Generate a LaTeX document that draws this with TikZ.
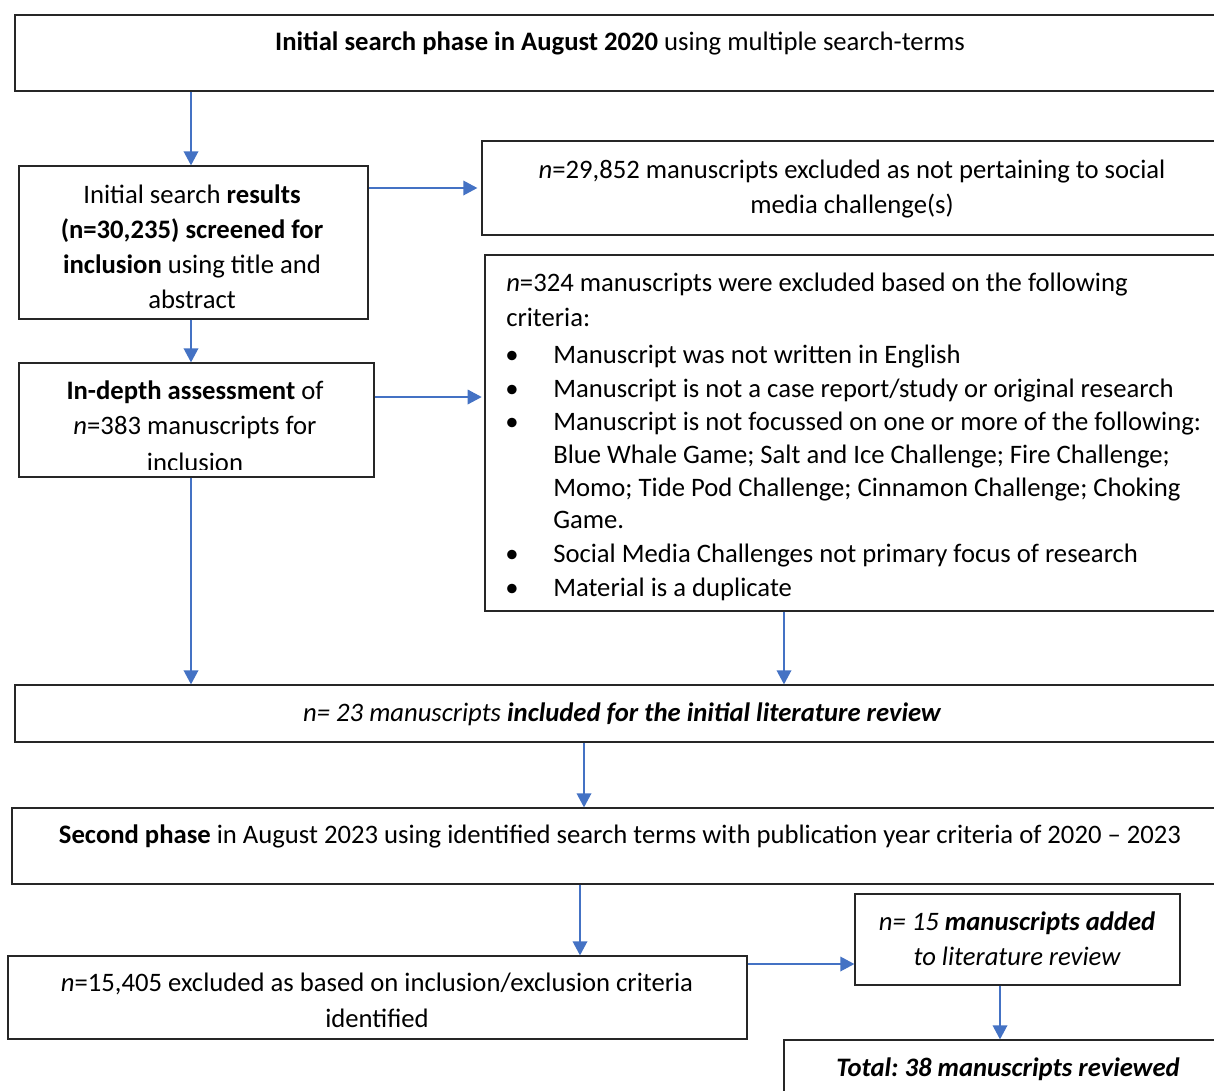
\documentclass[tikz,border=0pt]{standalone}
\usepackage{fontspec}
\setmainfont{Carlito}
\usetikzlibrary{arrows.meta,fit}
\definecolor{flow}{HTML}{4472C4}
\newcommand\fs{\fontsize{20}{24}\selectfont\frenchspacing}
\begin{document}
\begin{tikzpicture}[x=0.75pt,y=-0.75pt,
  box/.style={draw=black!85, line width=1pt, inner sep=0pt, rectangle},
  arr/.style={draw=flow, line width=1pt, -{Triangle[length=10.5pt,width=11pt]}},
  ln/.style={anchor=base, inner sep=0pt, font=\fs},
  lnw/.style={anchor=base west, inner sep=0pt, font=\fs}]
\useasboundingbox (0,0) rectangle (1214,1090);
\clip (0,0) rectangle (1214,1090);
\fill[white] (0,0) rectangle (1214,1090);
% boxes
\node[box, fit={(15,15) (1230,91)}] (b1) {};
\node[box, fit={(19,166) (368,319)}] (b2) {};
\node[box, fit={(482,141) (1230,235)}] (b3) {};
\node[box, fit={(19,363) (374,477)}] (b4) {};
\node[box, fit={(485,255) (1230,611)}] (b5) {};
\node[box, fit={(15,685) (1230,742)}] (b6) {};
\node[box, fit={(12,808) (1230,884)}] (b7) {};
\node[box, fit={(8,956) (747,1039)}] (b8) {};
\node[box, fit={(855,894) (1180,985)}] (b9) {};
\node[box, fit={(784,1040) (1230,1100)}] (b10) {};
% texts
\node[ln] (t1) at (620,50) {\textbf{Initial search phase in August 2020} using multiple search-terms};
\node[ln] (t3a) at (852,178) {\textit{n}=29,852 manuscripts excluded as not pertaining to social};
\node[ln] (t3b) at (852,213) {media challenge(s)};
\node[ln] (t2a) at (192,203) {Initial search \textbf{results}};
\node[ln] (t2b) at (192,238) {\textbf{(n=30,235) screened for}};
\node[ln] (t2c) at (192,273) {\textbf{inclusion} using title and};
\node[ln] (t2d) at (192,308) {abstract};
\node[ln] (t4a) at (195,399) {\textbf{In-depth assessment} of};
\node[ln] (t4b) at (195,434) {\textit{n}=383 manuscripts for};
\begin{scope}
\clip (19,363) rectangle (374,469);
\node[ln] (t4c) at (195,471) {inclusion};
\end{scope}
\node[lnw] (t5a) at (506,291) {\textit{n}=324 manuscripts were excluded based on the following};
\node[lnw] (t5b) at (506,326) {criteria:};
\foreach \y/\txt [count=\i] in {363/{Manuscript was not written in English},
  397/{Manuscript is not a case report/study or original research},
  430/{Manuscript is not focussed on one or more of the following:},
  562/{Social Media Challenges not primary focus of research},
  596/{Material is a duplicate}}{
  \node[ln] (bul\i) at (512,\y) {\textbullet};
  \node[lnw] (bt\i) at (553,\y) {\txt};
}
\node[lnw] (t5c) at (553,463) {Blue Whale Game; Salt and Ice Challenge; Fire Challenge;};
\node[lnw] (t5d) at (553,496) {Momo; Tide Pod Challenge; Cinnamon Challenge; Choking};
\node[lnw] (t5e) at (553,528) {Game.};
\node[ln] (t6) at (622,721) {\itshape n= 23 manuscripts \textbf{included for the initial literature review}};
\node[ln] (t7) at (620,843) {\textbf{Second phase} in August 2023 using identified search terms with publication year criteria of 2020 -- 2023};
\node[ln] (t8a) at (377,991) {\textit{n}=15,405 excluded as based on inclusion/exclusion criteria};
\node[ln] (t8b) at (377,1027) {identified};
\node[ln] (t9a) at (1017,930) {\itshape n= 15 \textbf{manuscripts added}};
\node[ln] (t9b) at (1017,965) {\itshape to literature review};
\node[ln] (t10) at (1008,1076) {\bfseries\itshape Total: 38 manuscripts reviewed};
% columns / rows for connectors
\coordinate (x191) at (191,0);
\coordinate (x584) at (584,0);
\coordinate (x580) at (580,0);
\coordinate (x784) at (784,0);
\coordinate (x1000) at (1000,0);
\coordinate (y188) at (0,188);
\coordinate (y397) at (0,397);
\coordinate (y964) at (0,964);
% connectors
\draw[arr] (b1.south -| x191) -- (b2.north -| x191);
\draw[arr] (b2.east |- y188) -- ([xshift=-3pt]b3.west |- y188);
\draw[arr] (b2.south -| x191) -- (b4.north -| x191);
\draw[arr] (b4.east |- y397) -- ([xshift=-2pt]b5.west |- y397);
\draw[arr] (b4.south -| x191) -- (b6.north -| x191);
\draw[arr] (b5.south -| x784) -- (b6.north -| x784);
\draw[arr] (b6.south -| x584) -- (b7.north -| x584);
\draw[arr] (b7.south -| x580) -- (b8.north -| x580);
\draw[arr] (b8.east |- y964) -- (b9.west |- y964);
\draw[arr] (b9.south -| x1000) -- (b10.north -| x1000);
\end{tikzpicture}
\end{document}
